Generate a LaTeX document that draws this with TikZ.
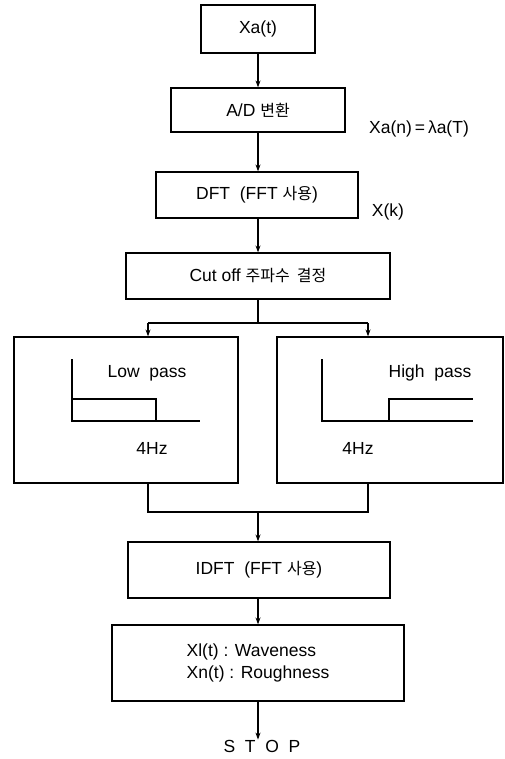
\documentclass[tikz,border=0pt]{standalone}
\usepackage{fontspec}
\setmainfont{Liberation Sans}
\newfontfamily\kr{Noto Sans CJK KR}
\usetikzlibrary{arrows.meta}
\begin{document}
\begin{tikzpicture}[x=1pt,y=-1pt,
  box/.style={draw,line width=1.2pt,rectangle,inner sep=0pt,font=\fontsize{17.5}{22}\selectfont},
  lbl/.style={inner sep=0pt,font=\fontsize{17.5}{22}\selectfont},
  ln/.style={line width=1.2pt},
  arr/.style={line width=1.2pt,-{Stealth[length=7pt,width=5pt]}}]
\useasboundingbox (0,0) rectangle (505,759);
\node[box,minimum width=114pt,minimum height=48pt] (xa) at (258,29) {Xa(t)};
\node[box,minimum width=174pt,minimum height=44pt] (ad) at (258,110) {A/D {\kr\fontsize{16}{20}\selectfont 변환}};
\node[box,minimum width=202pt,minimum height=46pt] (dft) at (257,195) {DFT\ \ (FFT {\kr\fontsize{16}{20}\selectfont 사용})};
\node[box,minimum width=264pt,minimum height=46pt] (cut) at (258,276) {Cut off {\kr\fontsize{16}{20}\selectfont 주파수\ \ 결정}};
\node[box,minimum width=224pt,minimum height=146pt] (low) at (126,410) {};
\node[box,minimum width=226pt,minimum height=146pt] (high) at (390,410) {};
\node[box,minimum width=262pt,minimum height=56pt] (idft) at (259,570) {IDFT\ \ (FFT {\kr\fontsize{16}{20}\selectfont 사용})};
\node[box,minimum width=292pt,minimum height=76pt,align=left] (out) at (258,663) {Xl(t) : Waveness\\Xn(t) : Roughness};
\node[lbl] (stop) at (262,746) {S\ \ T\ \ O\ \ P};
\node[lbl] (xan) at (419,129) {Xa(n)\,=\,λa(T)};
\node[lbl] (xk) at (388,212) {X(k)};
% inner texts
\node[lbl] (lp) at (147,373) {Low\ \ pass};
\node[lbl] (hp) at (430,373) {High\ \ pass};
\node[lbl] (lhz) at (152,448) {4Hz};
\node[lbl] (hhz) at (358,448) {4Hz};
% graphs
\draw[ln] (72,359) -- (72,421) -- (200,421);
\draw[ln] (72,399) -- (156,399) -- (156,421);
\draw[ln] (322,359) -- (322,421) -- (473,421);
\draw[ln] (389,421) -- (389,399) -- (473,399);
% connectors
\coordinate (jm) at (258,512);
\draw[arr] (xa) -- (xa |- ad.north);
\draw[arr] (ad) -- (ad.south |- dft.north);
\draw[arr] (jm |- dft.south) -- (jm |- cut.north);
\coordinate (bl) at (148,323);
\coordinate (br) at (368,323);
\draw[ln] (cut.south) -- (cut.south |- bl);
\draw[ln] (bl) -- (br);
\draw[arr] (bl) -- (bl |- low.north);
\draw[arr] (br) -- (br |- high.north);
\coordinate (jl) at (148,512);
\coordinate (jr) at (368,512);
\draw[ln] (jl |- low.south) -- (jl) -- (jr) -- (jr |- high.south);
\draw[arr] (jm) -- (jm |- idft.north);
\draw[arr] (jm |- idft.south) -- (jm |- out.north);
\draw[arr] (jm |- out.south) -- (jm |- stop.north);
\end{tikzpicture}
\end{document}
